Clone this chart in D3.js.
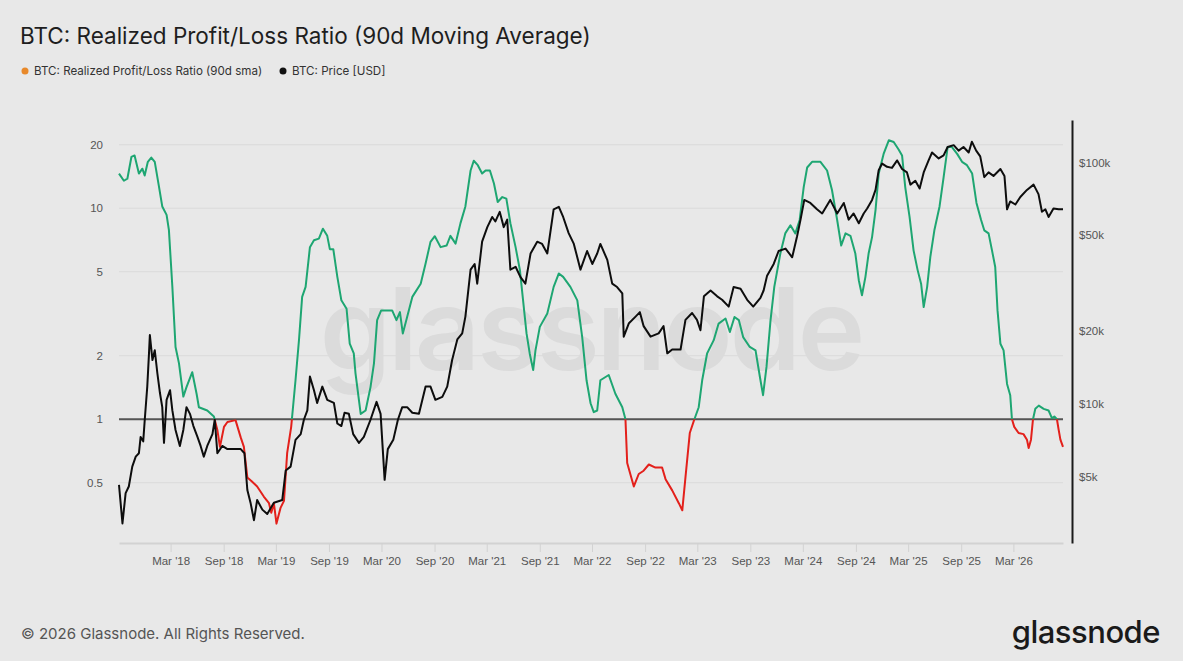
<!DOCTYPE html>
<html>
<head>
<meta charset="utf-8">
<script src="https://cdn.jsdelivr.net/npm/d3@7"></script>
<style>
  body { margin: 0; background: #e8e8e8; }
  svg { display: block; font-family: Inter, "Noto Sans", sans-serif; }
</style>
</head>
<body>
<svg id="chart" width="1183" height="661"></svg>
<script>
// realized profit/loss ratio (90d sma)
var ratioDates = [
  "2017-09-03","2017-09-20","2017-10-02","2017-10-16","2017-10-27","2017-11-11","2017-11-23","2017-12-01","2017-12-12","2017-12-24",
  "2018-01-05","2018-01-19","2018-01-31","2018-02-15","2018-02-23","2018-03-07","2018-03-18","2018-03-30","2018-04-14","2018-04-25",
  "2018-05-15","2018-05-30","2018-06-07","2018-07-06","2018-07-29","2018-08-10","2018-08-19","2018-09-02","2018-09-14","2018-10-12",
  "2018-10-30","2018-11-10","2018-11-22","2018-12-06","2018-12-26","2019-01-18","2019-02-05","2019-02-13","2019-02-22","2019-03-03",
  "2019-03-17","2019-03-29","2019-04-09","2019-04-23","2019-05-08","2019-05-20","2019-05-31","2019-06-12","2019-06-27","2019-07-11",
  "2019-07-28","2019-08-11","2019-08-26","2019-09-04","2019-09-16","2019-09-30","2019-10-14","2019-11-01","2019-11-12","2019-11-26",
  "2019-12-02","2019-12-20","2020-01-06","2020-01-23","2020-02-04","2020-02-15","2020-02-29","2020-04-07","2020-04-22","2020-05-04",
  "2020-05-14","2020-05-29","2020-06-16","2020-07-15","2020-08-01","2020-08-18","2020-09-02","2020-09-22","2020-10-13","2020-10-26",
  "2020-11-13","2020-11-30","2020-12-17","2021-01-04","2021-01-15","2021-01-29","2021-02-13","2021-02-25","2021-03-12","2021-03-26",
  "2021-04-08","2021-04-24","2021-05-08","2021-05-22","2021-06-09","2021-06-24","2021-07-05","2021-07-17","2021-07-28","2021-08-09",
  "2021-08-17","2021-09-01","2021-09-27","2021-10-19","2021-11-06","2021-11-21","2021-12-16","2022-01-09","2022-01-26","2022-02-10",
  "2022-02-24","2022-03-07","2022-03-19","2022-03-30","2022-04-28","2022-05-21","2022-06-14","2022-06-25","2022-07-01","2022-07-24",
  "2022-08-10","2022-08-27","2022-09-14","2022-10-07","2022-10-30","2022-11-11","2022-12-04","2022-12-27","2023-01-08","2023-01-19",
  "2023-02-03","2023-02-19","2023-03-06","2023-03-18","2023-04-04","2023-04-27","2023-05-14","2023-06-07","2023-06-22","2023-07-08",
  "2023-07-23","2023-08-07","2023-08-30","2023-09-19","2023-10-04","2023-10-15","2023-10-27","2023-11-10","2023-11-23","2023-12-14",
  "2023-12-31","2024-01-18","2024-02-04","2024-02-19","2024-03-04","2024-03-16","2024-04-02","2024-05-01","2024-05-24","2024-06-10",
  "2024-06-28","2024-07-12","2024-07-27","2024-08-13","2024-08-30","2024-09-11","2024-09-22","2024-10-04","2024-10-15","2024-10-27",
  "2024-11-08","2024-11-19","2024-12-06","2024-12-24","2025-01-10","2025-01-27","2025-02-08","2025-02-19","2025-03-06","2025-03-20",
  "2025-04-03","2025-04-15","2025-04-24","2025-05-06","2025-05-17","2025-05-31","2025-06-18","2025-07-02","2025-07-16","2025-07-31",
  "2025-08-18","2025-09-04","2025-09-21","2025-10-09","2025-10-24","2025-11-09","2025-11-20","2025-12-05","2025-12-17","2025-12-28",
  "2026-01-05","2026-01-15","2026-01-26","2026-02-07","2026-02-18","2026-02-24","2026-03-04","2026-03-19","2026-04-05","2026-04-17",
  "2026-04-23","2026-05-01","2026-05-08","2026-05-16","2026-05-28","2026-06-14","2026-07-01","2026-07-13","2026-07-21","2026-07-30",
  "2026-08-05","2026-08-11","2026-08-20"
];
var ratioValues = [
  14.6, 13.5, 13.8, 17.5, 17.8, 14.6, 15.4, 14.3, 16.6, 17.4,
  16.6, 12.8, 10.2, 9.3, 7.9, 4.24, 2.2, 1.84, 1.28, 1.42,
  1.67, 1.32, 1.14, 1.10, 1.03, 0.89, 0.74, 0.92, 0.97, 0.99,
  0.82, 0.74, 0.53, 0.51, 0.48, 0.43, 0.40, 0.36, 0.40, 0.32,
  0.38, 0.41, 0.69, 0.92, 1.53, 2.37, 3.80, 4.24, 6.54, 7.05,
  7.18, 8.0, 7.4, 6.4, 6.4, 4.73, 3.66, 3.34, 2.28, 2.05,
  1.65, 1.06, 1.10, 1.42, 1.84, 2.95, 3.28, 3.28, 2.95, 3.22,
  2.55, 3.05, 3.80, 4.39, 5.47, 6.93, 7.37, 6.54, 6.66, 7.4,
  6.8, 8.5, 10.2, 15.1, 16.8, 16.0, 14.6, 15.1, 15.1, 13.1,
  10.7, 11.3, 11.1, 8.5, 6.54, 5.09, 3.66, 2.55, 2.05, 1.71,
  2.12, 2.74, 3.17, 4.24, 4.91, 4.73, 4.24, 3.66, 2.45, 1.53,
  1.19, 1.08, 1.10, 1.53, 1.62, 1.32, 1.14, 1.0, 0.62, 0.48,
  0.55, 0.57, 0.61, 0.59, 0.59, 0.52, 0.46, 0.40, 0.37, 0.53,
  0.86, 1.0, 1.14, 1.53, 2.05, 2.37, 2.84, 3.0, 2.59, 3.05,
  2.95, 2.45, 2.20, 2.12, 1.59, 1.30, 1.77, 2.95, 4.24, 6.1,
  7.6, 8.3, 7.6, 8.8, 12.6, 15.6, 16.6, 16.6, 15.1, 12.2,
  8.8, 6.66, 7.6, 7.4, 6.1, 4.56, 3.87, 4.73, 6.1, 7.3,
  9.8, 14.6, 18.1, 21.0, 20.6, 19.0, 17.8, 12.6, 9.1, 6.3,
  5.09, 4.39, 3.40, 4.24, 5.88, 7.86, 10.2, 14.0, 19.5, 19.5,
  18.1, 16.6, 16.0, 14.6, 10.6, 8.8, 7.86, 7.6, 6.3, 5.27,
  3.28, 2.28, 2.12, 1.47, 1.30, 1.0, 0.92, 0.86, 0.85, 0.80,
  0.73, 0.80, 1.0, 1.12, 1.16, 1.12, 1.10, 1.01, 1.03, 1.0,
  0.89, 0.80, 0.74
];

// BTC price [USD]
var priceDates = [
  "2017-09-03","2017-09-15","2017-09-26","2017-10-07","2017-10-19","2017-10-31","2017-11-11","2017-11-17","2017-11-26","2017-12-01",
  "2017-12-10","2017-12-16","2017-12-19","2017-12-28","2018-01-05","2018-01-14","2018-01-23","2018-01-31","2018-02-06","2018-02-15",
  "2018-02-27","2018-03-07","2018-03-18","2018-04-02","2018-04-14","2018-04-25","2018-05-07","2018-05-19","2018-06-02","2018-06-13",
  "2018-06-24","2018-07-06","2018-07-24","2018-08-01","2018-08-10","2018-08-27","2018-09-14","2018-10-06","2018-10-30","2018-11-12",
  "2018-11-22","2018-12-03","2018-12-15","2018-12-26","2019-01-13","2019-01-30","2019-02-22","2019-03-23","2019-04-04","2019-04-21",
  "2019-05-08","2019-05-26","2019-06-06","2019-06-18","2019-06-27","2019-07-11","2019-07-22","2019-08-09","2019-08-26","2019-09-18",
  "2019-09-30","2019-10-14","2019-10-25","2019-11-09","2019-11-24","2019-12-14","2019-12-31","2020-01-23","2020-02-13","2020-02-27",
  "2020-03-12","2020-03-23","2020-04-11","2020-04-27","2020-05-12","2020-05-29","2020-06-16","2020-07-09","2020-08-01","2020-08-18",
  "2020-09-04","2020-09-28","2020-10-15","2020-11-01","2020-11-19","2020-12-06","2020-12-17","2021-01-04","2021-01-18","2021-01-27",
  "2021-02-13","2021-03-03","2021-03-20","2021-03-31","2021-04-15","2021-04-29","2021-05-11","2021-05-22","2021-06-09","2021-06-26",
  "2021-07-13","2021-07-31","2021-08-23","2021-09-09","2021-09-27","2021-10-19","2021-11-06","2021-11-21","2021-12-10","2021-12-28",
  "2022-01-20","2022-02-12","2022-03-02","2022-03-19","2022-03-30","2022-04-23","2022-05-10","2022-05-27","2022-06-14","2022-06-19",
  "2022-07-07","2022-07-30","2022-08-14","2022-08-27","2022-09-20","2022-10-18","2022-11-04","2022-11-17","2022-12-04","2023-01-02",
  "2023-01-19","2023-02-11","2023-02-28","2023-03-12","2023-03-24","2023-04-16","2023-05-09","2023-05-26","2023-06-18","2023-07-05",
  "2023-07-29","2023-08-21","2023-09-11","2023-10-06","2023-10-17","2023-10-29","2023-11-21","2023-12-08","2024-01-01","2024-01-24",
  "2024-02-10","2024-02-22","2024-03-06","2024-03-27","2024-04-19","2024-05-07","2024-06-04","2024-06-28","2024-07-21","2024-08-07",
  "2024-08-24","2024-09-11","2024-09-28","2024-10-10","2024-10-27","2024-11-08","2024-11-19","2024-12-01","2024-12-18","2025-01-04",
  "2025-01-22","2025-02-08","2025-02-25","2025-03-09","2025-03-26","2025-04-10","2025-04-24","2025-05-11","2025-05-23","2025-06-15",
  "2025-07-02","2025-07-16","2025-08-06","2025-08-23","2025-09-09","2025-09-27","2025-10-08","2025-10-23","2025-11-06","2025-11-20",
  "2025-12-05","2025-12-22","2026-01-15","2026-01-29","2026-02-07","2026-02-18","2026-03-08","2026-03-25","2026-04-17","2026-05-10",
  "2026-05-27","2026-06-08","2026-06-20","2026-07-01","2026-07-18","2026-08-05","2026-08-20"
];
var priceValues = [
  4620, 3200, 4270, 4550, 5500, 6050, 6250, 7300, 7000, 8500,
  11800, 16200, 19300, 15200, 16700, 13400, 11100, 9700, 6900, 10400,
  11400, 9400, 7800, 6700, 7800, 9700, 9100, 8100, 7300, 6700,
  6050, 6700, 7500, 8600, 6250, 6700, 6500, 6500, 6500, 6250,
  4400, 3900, 3300, 4000, 3650, 3500, 3900, 4000, 5300, 5500,
  7100, 7500, 8600, 9400, 13000, 11400, 10100, 11800, 10400, 10100,
  8300, 8100, 9200, 9100, 7500, 6900, 7300, 8600, 10200, 9100,
  4850, 6500, 7100, 8600, 9700, 9700, 9200, 9100, 11800, 11800,
  10400, 10700, 11800, 15200, 18500, 19600, 23000, 36000, 38000, 31500,
  47000, 54000, 59500, 57000, 62500, 54000, 58000, 36000, 37000, 33500,
  31500, 42000, 47000, 46000, 42000, 64000, 65500, 59500, 51000, 46000,
  36000, 43000, 38000, 42000, 46000, 39500, 31500, 30500, 28700, 19000,
  21600, 23000, 24000, 21000, 19000, 19600, 21000, 16200, 16800, 16800,
  22300, 23800, 22300, 20200, 27900, 29500, 27900, 27000, 25300, 30500,
  30000, 27000, 25300, 27500, 29500, 34000, 38000, 43000, 44000, 40500,
  49500, 58000, 70000, 68000, 64000, 61500, 70000, 61500, 68000, 58000,
  61500, 56000, 61500, 64500, 70000, 77000, 93000, 99000, 96000, 95000,
  102000, 94000, 91000, 81000, 84000, 78000, 91000, 102000, 110000, 104000,
  107000, 116000, 118000, 112000, 116000, 110000, 122000, 112000, 106000, 87000,
  91000, 88000, 94000, 88000, 64000, 69000, 67000, 72000, 77000, 81000,
  74000, 62500, 64000, 59500, 64500, 64000, 64000
];

var xTickDates = ["2018-03-01","2018-09-01","2019-03-01","2019-09-01","2020-03-01","2020-09-01",
  "2021-03-01","2021-09-01","2022-03-01","2022-09-01","2023-03-01","2023-09-01",
  "2024-03-01","2024-09-01","2025-03-01","2025-09-01","2026-03-01"];
var ratioTicks = [0.5, 1, 2, 5, 10, 20];
var priceTicks = [5000, 10000, 20000, 50000, 100000];

var W = 1183, H = 661;
var plot = {l: 119, r: 1063, t: 120, b: 543};
var green = '#1ea672', red = '#e3201b';

var parse = d3.timeParse('%Y-%m-%d');
var ratioData = ratioDates.map(function(d, i) { return {date: parse(d), value: ratioValues[i]}; });
var priceData = priceDates.map(function(d, i) { return {date: parse(d), value: priceValues[i]}; });

var svg = d3.select('#chart');
svg.append('rect').attr('width', W).attr('height', H).attr('fill', '#e8e8e8');

var x = d3.scaleTime()
  .domain(d3.extent(ratioData, function(d) { return d.date; }))
  .range([plot.l, plot.r]);
var yRatio = d3.scaleLog().domain([0.259, 26.2]).range([plot.b, plot.t]);
var yPrice = d3.scaleLog().domain([2655, 150000]).range([plot.b, plot.t]);

// title + legend
svg.append('text')
  .attr('x', 20).attr('y', 44)
  .attr('font-size', 22.5).attr('fill', '#1e1e1e')
  .text('BTC: Realized Profit/Loss Ratio (90d Moving Average)');

var legend = [
  {label: 'BTC: Realized Profit/Loss Ratio (90d sma)', color: '#e8892b', x: 25},
  {label: 'BTC: Price [USD]', color: '#111111', x: 283}
];
var lg = svg.selectAll('.lg').data(legend).enter().append('g')
  .attr('transform', function(d) { return 'translate(' + d.x + ',71)'; });
lg.append('circle').attr('r', 3.5).attr('fill', function(d) { return d.color; });
lg.append('text').attr('x', 9).attr('dy', '0.35em')
  .attr('font-size', 11.6).attr('fill', '#333')
  .text(function(d) { return d.label; });

// gridlines
svg.append('g').selectAll('line').data(ratioTicks).enter().append('line')
  .attr('x1', plot.l).attr('x2', plot.r)
  .attr('y1', function(d) { return yRatio(d); })
  .attr('y2', function(d) { return yRatio(d); })
  .attr('stroke', '#dadada').attr('stroke-width', 1);

// watermark
svg.append('text')
  .attr('x', 591).attr('y', 370)
  .attr('text-anchor', 'middle')
  .attr('font-size', 114).attr('font-weight', 600)
  .attr('letter-spacing', -3)
  .attr('fill', '#dbdbdb')
  .text('glassnode');

// x axis
var xAxis = d3.axisBottom(x)
  .tickValues(xTickDates.map(parse))
  .tickFormat(d3.timeFormat("%b '%y"))
  .tickSize(9).tickSizeOuter(0).tickPadding(5);
var gx = svg.append('g').attr('transform', 'translate(0,' + plot.b + ')').call(xAxis);
gx.select('.domain').attr('stroke', '#d2d2d2').attr('stroke-width', 2);
gx.selectAll('.tick line').attr('stroke', '#d2d2d2');
gx.selectAll('.tick text').attr('fill', '#555').attr('font-size', 11.5).attr('font-family', null);

// left axis
var gyl = svg.append('g').attr('transform', 'translate(' + plot.l + ',0)')
  .call(d3.axisLeft(yRatio).tickValues(ratioTicks).tickFormat(d3.format('')).tickSize(0).tickPadding(16));
gyl.select('.domain').remove();
gyl.selectAll('.tick text').attr('fill', '#555').attr('font-size', 11.5).attr('font-family', null);

// right axis
var gyr = svg.append('g').attr('transform', 'translate(1072,0)')
  .call(d3.axisRight(yPrice).tickValues(priceTicks)
    .tickFormat(function(d) { return '$' + (d / 1000) + 'k'; })
    .tickSize(0).tickPadding(7));
gyr.select('.domain').attr('stroke', '#1a1a1a').attr('stroke-width', 2);
gyr.selectAll('.tick text').attr('fill', '#555').attr('font-size', 11.5).attr('font-family', null);

// ratio = 1 reference
svg.append('line')
  .attr('x1', plot.l).attr('x2', plot.r)
  .attr('y1', yRatio(1)).attr('y2', yRatio(1))
  .attr('stroke', '#555').attr('stroke-width', 2);

// ratio line: green above 1, red below, via clip
var defs = svg.append('defs');
defs.append('clipPath').attr('id', 'above').append('rect')
  .attr('x', 0).attr('y', 0).attr('width', W).attr('height', yRatio(1));
defs.append('clipPath').attr('id', 'below').append('rect')
  .attr('x', 0).attr('y', yRatio(1)).attr('width', W).attr('height', H - yRatio(1));

var ratioLine = d3.line()
  .x(function(d) { return x(d.date); })
  .y(function(d) { return yRatio(d.value); });

[['above', green], ['below', red]].forEach(function(c) {
  svg.append('path').datum(ratioData)
    .attr('clip-path', 'url(#' + c[0] + ')')
    .attr('d', ratioLine)
    .attr('fill', 'none').attr('stroke', c[1])
    .attr('stroke-width', 2).attr('stroke-linejoin', 'round');
});

// price line
var priceLine = d3.line()
  .x(function(d) { return x(d.date); })
  .y(function(d) { return yPrice(d.value); });
svg.append('path').datum(priceData)
  .attr('d', priceLine)
  .attr('fill', 'none').attr('stroke', '#0d0d0d')
  .attr('stroke-width', 2).attr('stroke-linejoin', 'round');

// footer
svg.append('text')
  .attr('x', 21).attr('y', 639)
  .attr('font-size', 15).attr('fill', '#555')
  .text('\u00a9 2026 Glassnode. All Rights Reserved.');
svg.append('text')
  .attr('x', 1160).attr('y', 643)
  .attr('text-anchor', 'end')
  .attr('font-size', 31).attr('font-weight', 500)
  .attr('letter-spacing', -0.5)
  .attr('fill', '#1a1a1a')
  .text('glassnode');
</script>
</body>
</html>
